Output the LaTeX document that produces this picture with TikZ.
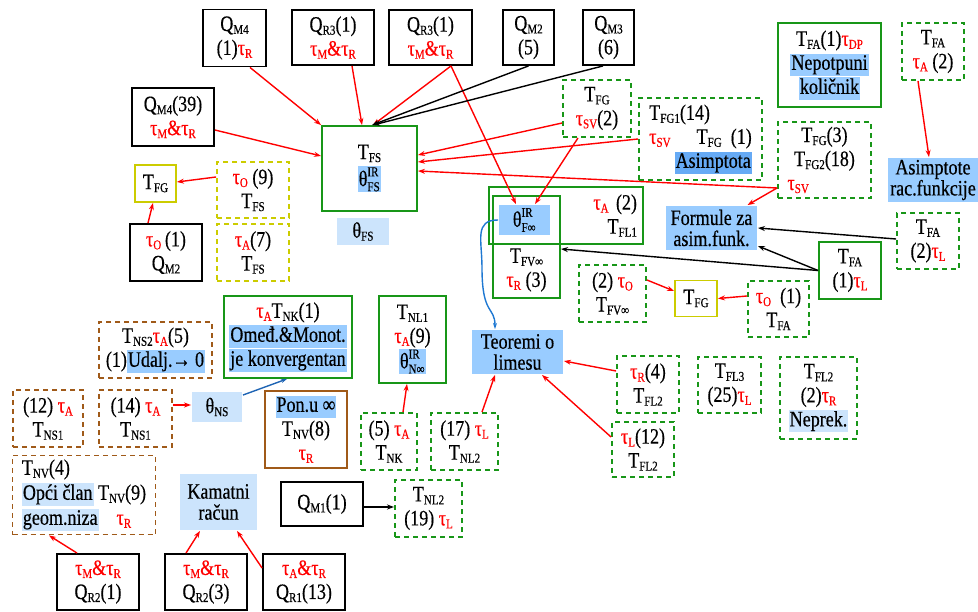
\documentclass[tikz,border=0pt]{standalone}
\usepackage{fontspec}
\setmainfont{Liberation Serif}[FakeStretch=0.82,FakeBold=0.4]
\usetikzlibrary{arrows.meta}
\definecolor{gr}{RGB}{24,150,24}
\definecolor{yl}{RGB}{204,204,0}
\definecolor{br}{RGB}{160,90,25}
\definecolor{bmid}{RGB}{153,204,255}
\definecolor{blight}{RGB}{204,228,252}
\definecolor{bdark}{RGB}{102,170,245}
\definecolor{bln}{RGB}{30,100,180}
\definecolor{blc}{RGB}{30,120,210}
\definecolor{rd}{RGB}{255,0,0}
\newcommand\sbs[1]{\raisebox{-3pt}{\fontsize{13.5}{13.5}\selectfont #1}}
\newcommand\tu[1]{\textcolor{rd}{τ\sbs{#1}}}
\newcommand\ramp{\textcolor{rd}{\&}}
\newcommand\thir[2]{$\mbox{θ}^{\mbox{\fontsize{13.5}{13.5}\selectfont #1}}_{\mbox{\fontsize{13.5}{13.5}\selectfont #2}}$}
\newcommand\hlx[2]{{\setlength\fboxsep{1pt}\colorbox{#1}{\vphantom{Ajg}#2}}}
\newcommand\hla[1]{\hlx{bmid}{#1}}
\newcommand\hlb[1]{\hlx{blight}{#1}}
\newcommand\hld[1]{\hlx{bdark}{#1}}
\tikzset{
  base/.style={inner sep=1pt, align=center, font=\fontsize{22}{24}\selectfont, line width=1.9pt},
  sz/.style 2 args={minimum width=#1pt, minimum height=#2pt},
  blk/.style={base, draw=black},
  grn/.style={base, draw=gr},
  grnd/.style={base, draw=gr, dash pattern=on 5pt off 4pt},
  yel/.style={base, draw=yl},
  yeld/.style={base, draw=yl, dash pattern=on 5pt off 4pt},
  brn/.style={base, draw=br},
  brnd/.style={base, draw=br, dash pattern=on 5pt off 4pt},
  fA/.style={base, fill=bmid, font=\fontsize{22}{21}\selectfont},
  fB/.style={base, fill=blight, font=\fontsize{22}{21}\selectfont},
  txt/.style={base, inner sep=0pt},
  ra/.style={draw=rd, line width=1.4pt, -{Stealth[length=7pt,width=5pt]}},
  ka/.style={draw=black, line width=1.4pt, -{Stealth[length=7pt,width=5pt]}},
  ba/.style={draw=bln, line width=1.4pt, -{Stealth[length=6pt,width=4pt]}},
  bc/.style={draw=blc, line width=1.4pt, -{Stealth[length=6pt,width=4pt]}},
}
\begin{document}
\begin{tikzpicture}[x=1pt,y=-1pt]
\useasboundingbox (0,0) rectangle (978,612);
% top row
\node[blk,sz={63}{57}] (qmfa) at (234.5,38) {Q\sbs{M4}\\(1)\tu{R}};
\node[blk,sz={82}{55}] (qrta) at (333,37.5) {Q\sbs{R3}(1)\\\tu{M}\ramp\tu{R}};
\node[blk,sz={83}{55}] (qrtb) at (430.5,37.5) {Q\sbs{R3}(1)\\\tu{M}\ramp\tu{R}};
\node[blk,sz={51}{55}] (qmtw) at (528.5,37.5) {Q\sbs{M2}\\(5)};
\node[blk,sz={51}{55}] (qmth) at (608.5,37.5) {Q\sbs{M3}\\(6)};
\node[blk,sz={82}{58}] (qmfb) at (173,117) {Q\sbs{M4}(39)\\\tu{M}\ramp\tu{R}};
% left upper
\node[yel,sz={41}{37}] (tfga) at (155.5,183.5) {T\sbs{FG}};
\node[yeld,sz={72}{56}] (tfsa) at (253,190) {\tu{O} (9)\\T\sbs{FS}};
\node[yeld,sz={72}{57}] (tfsb) at (253,252.5) {\tu{A}(7)\\T\sbs{FS}};
\node[blk,sz={72}{57}] (qmtwb) at (166,252.5) {\tu{O}\,(1)\\Q\sbs{M2}};
\node[grn,sz={95}{85}] (tfs) at (369.5,168.5) {T\sbs{FS}\\[3pt]\hla{\thir{IR}{FS}}};
\node[fB,sz={52}{27}] (thfs) at (363,231.5) {θ\sbs{FS}};
% right upper
\node[grnd,sz={68}{57}] (tfgb) at (597,108.5) {T\sbs{FG}\\\tu{SV}(2)};
\node[grnd,sz={123}{82}] (tfgc) at (700.5,139) {\begin{tabular}{@{}l@{\hspace{4pt}}r@{}}\multicolumn{2}{@{}l@{}}{T\sbs{FG1}(14)}\\ \tu{SV} & T\sbs{FG}\ \ (1)\\ & \hld{Asimptota}\end{tabular}};
\node[grnd,sz={93}{76}] (tfgd) at (824.5,160) {T\sbs{FG}(3)\\T\sbs{FG2}(18)\\\makebox[74pt][l]{\tu{SV}}};
\node[grn,sz={103}{84}] (tfaa) at (829.5,65) {T\sbs{FA}(1)\tu{DP}\\\hla{Nepotpuni}\\\hla{količnik}};
\node[grnd,sz={62}{57}] (tfab) at (933,51.5) {T\sbs{FA}\\\tu{A} (2)};
\node[fA,sz={90}{44}] (asrf) at (933,180) {Asimptote\\rac.funkcije};
\node[grnd,sz={62}{56}] (tfac) at (928,241) {T\sbs{FA}\\(2)\tu{L}};
\node[fA,sz={91}{44}] (form) at (711.5,228) {Formule za\\asim.funk.};
\node[grn,sz={62}{57}] (tfad) at (850,270.5) {T\sbs{FA}\\(1)\tu{L}};
% centre cluster
\node[grn,sz={154}{57},text width=142pt,inner sep=6pt,align=right] (tflo) at (566,215.5) {\tu{A} (2)\\T\sbs{FL1}};
\node[grn,sz={67}{102}] (tfvi) at (526.5,247) {};
\node[txt] (tfvt) at (526.5,270) {T\sbs{FV∞}\\\tu{R} (3)};
\node[fA,sz={51}{30}] (thfi) at (524.5,220) {\thir{IR}{F∞}};
\node[grnd,sz={67}{57}] (tfve) at (612.5,293.5) {(2) \tu{O}\\T\sbs{FV∞}};
\node[yel,sz={42}{36}] (tfgy) at (696,298.5) {T\sbs{FG}};
\node[grnd,sz={61}{56}] (tfae) at (778.5,309) {\tu{O}\ \ (1)\\T\sbs{FA}};
\node[fA,sz={91}{44}] (teol) at (517.5,352) {Teoremi o\\limesu};
\node[grn,sz={67}{87}] (tnlo) at (412.5,339.5) {T\sbs{NL1}\\\tu{A}(9)\\\hla{\thir{IR}{N∞}}};
\node[grn,sz={128}{82}] (tnka) at (288,337) {\tu{A}T\sbs{NK}(1)\\\hla{Omeđ.\&Monot.}\\\hla{je konvergentan}};
\node[brnd,sz={113}{56}] (tnst) at (155.5,350) {T\sbs{NS2}\tu{A}(5)\\(1)\hla{Udalj.→ 0}};
% lower left
\node[brnd,sz={70}{57}] (tnsa) at (48,418.5) {(12) \tu{A}\\T\sbs{NS1}};
\node[brnd,sz={73}{57}] (tnsb) at (135.5,418.5) {(14) \tu{A}\\T\sbs{NS1}};
\node[fB,sz={50}{30}] (thns) at (217,407) {θ\sbs{NS}};
\node[brn,sz={82}{77}] (tnve) at (306,429.5) {\hla{Pon.u ∞}\\T\sbs{NV}(8)\\\tu{R}};
\node[grnd,sz={56}{57}] (tnkb) at (389,441.5) {(5) \tu{A}\\T\sbs{NK}};
\node[grnd,sz={67}{57}] (tnlt) at (464.5,441.5) {(17) \tu{L}\\T\sbs{NL2}};
\node[grnd,sz={62}{57}] (tflta) at (648,384.5) {\tu{R}(4)\\T\sbs{FL2}};
\node[grnd,sz={63}{56}] (tflth) at (729.5,385) {T\sbs{FL3}\\(25)\tu{L}};
\node[grnd,sz={77}{82}] (tfltb) at (818.5,398) {T\sbs{FL2}\\(2)\tu{R}\\\hlb{Neprek.}};
\node[grnd,sz={62}{55}] (tfltc) at (643,449.5) {\tu{L}(12)\\T\sbs{FL2}};
\node[brnd,sz={143}{77},align=left,inner sep=4pt] (tnvn) at (84,495) {T\sbs{NV}(4)\\[1pt]\hlb{Opći član} T\sbs{NV}(9)\\[1pt]\hlb{geom.niza}\hspace{18pt}\tu{R}};
\node[fB,sz={77}{56}] (kama) at (218.5,502) {Kamatni\\račun};
\node[blk,sz={82}{44}] (qmon) at (322,504) {Q\sbs{M1}(1)};
\node[grnd,sz={67}{57}] (tnlu) at (428.5,508.5) {T\sbs{NL2}\\(19) \tu{L}};
\node[blk,sz={82}{56}] (qrwa) at (98,582) {\tu{M}\ramp\tu{R}\\Q\sbs{R2}(1)};
\node[blk,sz={82}{56}] (qrwb) at (206,582) {\tu{M}\ramp\tu{R}\\Q\sbs{R2}(3)};
\node[blk,sz={82}{56}] (qron) at (304,582) {\tu{A}\ramp\tu{R}\\Q\sbs{R1}(13)};
% connectors
\draw[ra] ([xshift=15.5pt]qmfa.south) -- (tfs.north west);
\draw[ra] ([yshift=-13pt]qmfb.east) -- ([yshift=12.5pt]tfs.west);
\draw[ra] ([xshift=19pt]qrta.south) -- ([xshift=-7.5pt]tfs.north);
\draw[ra] ([xshift=20.5pt]qrtb.south) -- ([xshift=3.5pt]tfs.north);
\draw[ra] ([xshift=20.5pt]qrtb.south) -- ([xshift=-8.5pt]thfi.north);
\draw[ka] (qmtw.south) -- ([xshift=2.5pt]tfs.north);
\draw[ka] ([xshift=-5.5pt]qmth.south) -- ([xshift=3.5pt]tfs.north);
\draw[ra] ([yshift=-14.5pt]tfgb.west) -- ([yshift=13.5pt]tfs.east);
\draw[ra] ([xshift=-19pt]tfgb.south) -- ([xshift=10.5pt]thfi.north);
\draw[ra] (tfgc.west) -- ([yshift=6.5pt]tfs.east);
\draw[ra] ([yshift=-28pt]tfgd.west) -- ([yshift=-2.5pt]tfs.east);
\draw[ra] ([yshift=-28pt]tfgd.west) -- ([xshift=36pt]form.north);
\draw[ra] ([xshift=-15pt]tfab.south) -- ([xshift=-4pt]asrf.north);
\draw[ka] ([yshift=2pt]tfac.west) -- (form.east);
\draw[ka] (tfad.west) -- ([yshift=-18pt]form.east);
\draw[ka] (tfad.west) -- ([yshift=-2pt]tfvi.east);
\draw[ra] ([yshift=13.5pt]tfve.east) -- ([yshift=7.5pt]tfgy.west);
\draw[ra] ([yshift=13pt]tfae.west) -- (tfgy.east);
\draw[bc] (thfi.west) .. controls (474,220) and (482,240) .. (482,268) .. controls (482,316) and (495,306) .. ([xshift=-22.5pt]teol.north);
\draw[ra] ([yshift=13.5pt]tflta.west) -- ([yshift=-9pt]teol.east);
\draw[ra] ([yshift=12.5pt]tfltc.west) -- ([xshift=24.5pt]teol.south);
\draw[ra] ([xshift=17.5pt]tnlt.north) -- ([xshift=-22.5pt]teol.south);
\draw[ra] ([xshift=14pt]tnkb.north) -- ([xshift=-5.5pt]tnlo.south);
\draw[ba] ([yshift=-4pt]thns.north east) -- ([xshift=-1pt]tnka.south);
\draw[ra] ([yshift=13.5pt]tnsb.east) -- ([yshift=2pt]thns.west);
\draw[ra] ([yshift=13pt]tfsa.west) -- ([yshift=1.5pt]tfga.east);
\draw[ra] ([xshift=-18pt]qmtwb.north) -- ([xshift=-2.5pt]tfga.south);
\draw[ka] ([yshift=-3pt]qmon.east) -- ([yshift=1.5pt]tnlu.west);
\draw[ra] ([xshift=-21pt]qrwa.north) -- ([xshift=-35pt]tnvn.south);
\draw[ra] ([xshift=-20pt]qrwb.north) -- ([xshift=-18.5pt]kama.south);
\draw[ra] ([yshift=14pt]qron.west) -- ([xshift=18.5pt]kama.south);
\end{tikzpicture}
\end{document}
